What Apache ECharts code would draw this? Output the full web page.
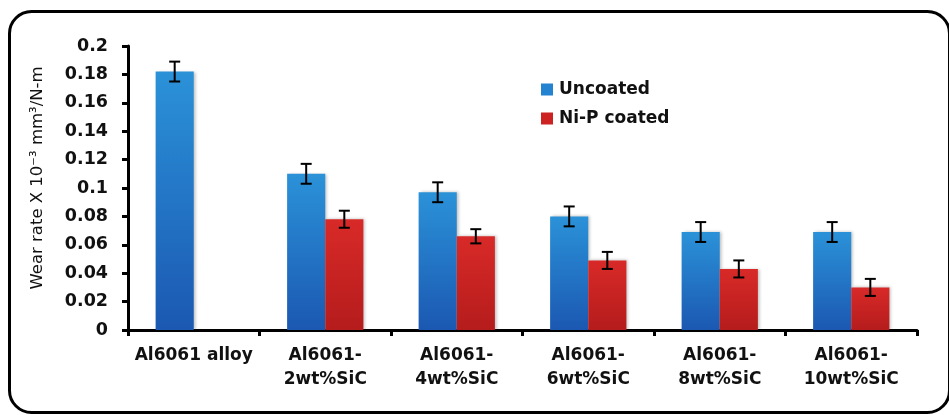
<!DOCTYPE html>
<html>
<head>
<meta charset="utf-8">
<script src="https://cdn.jsdelivr.net/npm/echarts@6/dist/echarts.min.js"></script>
<style>
  html, body { margin: 0; padding: 0; background: #fff; }
  #main { width: 949px; height: 415px; }
</style>
</head>
<body>
<div id="main"></div>
<script>
const categories = ["Al6061 alloy", "Al6061-\n2wt%SiC", "Al6061-\n4wt%SiC", "Al6061-\n6wt%SiC", "Al6061-\n8wt%SiC", "Al6061-\n10wt%SiC"];
const uncoated = [0.182, 0.110, 0.097, 0.080, 0.069, 0.069];
const uncoatedErr = [0.007, 0.007, 0.007, 0.007, 0.007, 0.007];
const coated = [null, 0.078, 0.066, 0.049, 0.043, 0.030];
const coatedErr = [null, 0.006, 0.005, 0.006, 0.006, 0.006];
const yTicks = [0, 0.02, 0.04, 0.06, 0.08, 0.1, 0.12, 0.14, 0.16, 0.18, 0.2];

const gapPct = 42;
const font = "DejaVu Sans";

// error bars drawn on top of the bars, half a bar left/right of the category center
function errSeries(values, errs, side) {
  return {
    type: "custom",
    silent: true,
    z: 10,
    data: values.map((v, i) => (v == null ? [i, null, null] : [i, v, errs[i]])),
    renderItem(params, api) {
      const v = api.value(1);
      if (v == null || isNaN(v)) return;
      const e = api.value(2);
      const band = api.size([1, 0])[0];
      const barW = band * (1 - gapPct / 100) / 2;
      const c = api.coord([api.value(0), v]);
      const x = c[0] + side * barW / 2;
      const top = api.coord([api.value(0), v + e])[1];
      const bot = api.coord([api.value(0), v - e])[1];
      const cap = 5.5;
      const st = { stroke: "#000", lineWidth: 2 };
      return {
        type: "group",
        children: [
          { type: "line", shape: { x1: x, y1: top, x2: x, y2: bot }, style: st },
          { type: "line", shape: { x1: x - cap, y1: top, x2: x + cap, y2: top }, style: st },
          { type: "line", shape: { x1: x - cap, y1: bot, x2: x + cap, y2: bot }, style: st },
        ],
      };
    },
  };
}

const myChart = echarts.init(document.getElementById("main"));
const option = {
  animation: false,
  graphic: [
    {
      type: "rect",
      shape: { x: 9.5, y: 11.5, width: 940, height: 401, r: 22 },
      style: { fill: "none", stroke: "#000", lineWidth: 3 },
      z: 0,
    },
  ],
  legend: {
    orient: "vertical",
    left: 536,
    top: 76,
    itemWidth: 12,
    itemHeight: 12,
    itemGap: 12,
    icon: "rect",
    textStyle: { fontFamily: font, fontSize: 17, fontWeight: "bold", color: "#111", padding: [0, 0, 0, 1] },
    data: [
      { name: "Uncoated", itemStyle: { color: "#2383d0" } },
      { name: "Ni-P coated", itemStyle: { color: "#cc2222" } },
    ],
  },
  grid: { left: 128, right: 32, top: 46, bottom: 85 },
  xAxis: {
    type: "category",
    data: categories,
    axisLine: { lineStyle: { color: "#000", width: 3 } },
    axisTick: { show: true, length: 6, lineStyle: { color: "#000", width: 3 } },
    axisLabel: {
      margin: 14,
      fontFamily: font,
      fontSize: 17,
      fontWeight: "bold",
      color: "#111",
      lineHeight: 24,
      interval: 0,
    },
  },
  yAxis: {
    type: "value",
    min: 0,
    max: 0.2,
    interval: 0.02,
    name: "Wear rate X 10⁻³ mm³/N-m",
    nameLocation: "middle",
    nameGap: 82,
    nameTextStyle: { fontFamily: font, fontSize: 16.5, color: "#111", padding: [0, 0, 0, 20] },
    splitLine: { show: false },
    axisLine: { show: true, lineStyle: { color: "#000", width: 3 } },
    axisTick: { show: true, length: 6, lineStyle: { color: "#000", width: 3 } },
    axisLabel: {
      margin: 20,
      fontFamily: font,
      fontSize: 17.5,
      fontWeight: "bold",
      color: "#111",
      formatter: (v) => {
        const t = yTicks.find((k) => Math.abs(k - v) < 1e-9);
        return t === undefined ? "" : String(t);
      },
    },
  },
  series: [
    {
      name: "Uncoated",
      type: "bar",
      data: uncoated,
      barGap: "0%",
      barCategoryGap: gapPct + "%",
      itemStyle: {
        color: new echarts.graphic.LinearGradient(0, 0, 0, 1, [
          { offset: 0, color: "#2b92d8" },
          { offset: 1, color: "#1b58b2" },
        ]),
        shadowBlur: 3,
        shadowOffsetX: 2,
        shadowColor: "rgba(0,0,0,0.25)",
      },
    },
    {
      name: "Ni-P coated",
      type: "bar",
      data: coated,
      barGap: "0%",
      barCategoryGap: gapPct + "%",
      itemStyle: {
        color: new echarts.graphic.LinearGradient(0, 0, 0, 1, [
          { offset: 0, color: "#d82a28" },
          { offset: 1, color: "#b51c1c" },
        ]),
        shadowBlur: 3,
        shadowOffsetX: 2,
        shadowColor: "rgba(0,0,0,0.25)",
      },
    },
    errSeries(uncoated, uncoatedErr, -1),
    errSeries(coated, coatedErr, 1),
  ],
};
myChart.setOption(option);
</script>
</body>
</html>
